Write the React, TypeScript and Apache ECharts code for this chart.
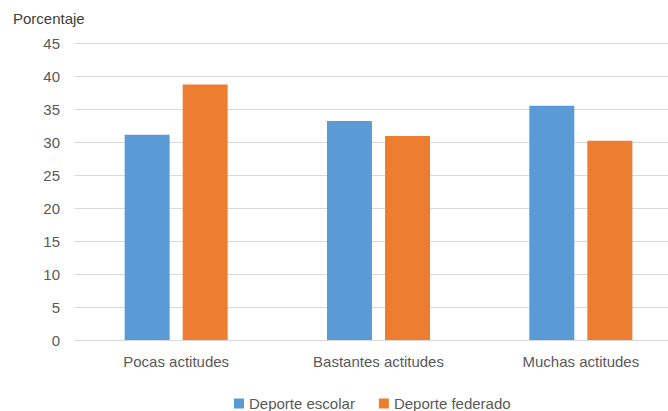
import React, { useEffect, useRef } from "react";
import * as echarts from "echarts";

const categories = ["Pocas actitudes", "Bastantes actitudes", "Muchas actitudes"];
const escolar = [31.1, 33.2, 35.5];
const federado = [38.7, 30.9, 30.2];
const seriesNames = ["Deporte escolar", "Deporte federado"];

const FONT = "'Liberation Sans', 'DejaVu Sans', sans-serif";

export default function App() {
  const ref = useRef<HTMLDivElement>(null);
  useEffect(() => {
    if (!ref.current) return;
    const chart = echarts.init(ref.current, null, { renderer: "svg" });
    chart.setOption({
      animation: false,
      textStyle: { fontFamily: FONT },
      title: {
        text: "Porcentaje",
        left: 8,
        top: 6,
        textStyle: { fontSize: 15, fontWeight: "normal", color: "#404040", fontFamily: FONT },
      },
      legend: {
        data: seriesNames,
        top: 391,
        left: 229,
        itemWidth: 10,
        itemHeight: 10,
        itemGap: 24,
        icon: "rect",
        textStyle: { fontSize: 15, color: "#595959", fontFamily: FONT },
      },
      grid: { left: 75, top: 43, right: 8, bottom: 71, containLabel: false },
      xAxis: {
        type: "category",
        data: categories,
        axisLine: { lineStyle: { color: "#D9D9D9" } },
        axisTick: { show: false },
        axisLabel: { fontSize: 15, color: "#595959", margin: 14, fontFamily: FONT },
      },
      yAxis: {
        type: "value",
        min: 0,
        max: 45,
        interval: 5,
        axisLine: { show: false },
        axisTick: { show: false },
        splitLine: { lineStyle: { color: "#D9D9D9" } },
        axisLabel: { fontSize: 15, color: "#595959", margin: 15, fontFamily: FONT },
      },
      series: [
        {
          name: seriesNames[0],
          type: "bar",
          data: escolar,
          barWidth: 45,
          barGap: "29%",
          itemStyle: { color: "#5B9BD5" },
        },
        {
          name: seriesNames[1],
          type: "bar",
          data: federado,
          barWidth: 45,
          barGap: "29%",
          itemStyle: { color: "#ED7D31" },
        },
      ],
    });
    return () => chart.dispose();
  }, []);
  return (
    <div
      style={{ position: "fixed", left: 0, top: 0, width: 668, height: 411, overflow: "hidden", background: "#fff" }}
    >
      <div ref={ref} style={{ width: 690, height: 411 }} />
    </div>
  );
}
